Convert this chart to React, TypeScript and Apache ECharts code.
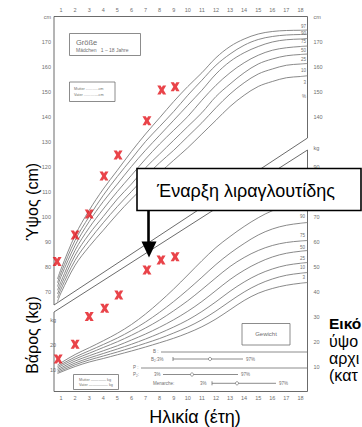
import React, { useEffect, useRef } from "react";
import * as echarts from "echarts";

// ---------- data ----------
const AGES = [0.75, 1, 2, 3, 4, 5, 6, 7, 8, 9, 10, 11, 12, 13, 14, 15, 16, 17, 18, 18.5];
const AGE_TICKS = [1, 2, 3, 4, 5, 6, 7, 8, 9, 10, 11, 12, 13, 14, 15, 16, 17, 18];
const PCT_NAMES = ["3", "10", "25", "50", "75", "90", "97"];

const H3 = [66, 69.5, 80.5, 88, 94.5, 101, 107, 112.5, 117.5, 122.5, 127.5, 133, 138.5, 144, 148.5, 152, 154, 155.5, 156, 156.3];
const H10 = [67.5, 71, 82.5, 90.5, 97.5, 104, 110, 116, 121.5, 126.5, 132, 137.5, 143.5, 149, 153.5, 157, 159, 160.5, 161, 161.2];
const H25 = [69, 72.5, 84.5, 93, 100, 107, 113, 119.5, 125, 130.5, 136, 141.5, 148, 153, 157.5, 161, 163, 164.3, 164.8, 165];
const H50 = [70.5, 74, 86.5, 95.5, 103, 110, 116.5, 123, 129, 134.5, 140, 146.5, 152.5, 157.5, 161.5, 164.5, 166.5, 167.5, 168, 168.2];
const H75 = [72, 76, 88.5, 98, 106, 113, 120, 126.5, 132.5, 138.5, 144.5, 150.5, 157, 162, 165.5, 168, 169.8, 170.7, 171, 171.2];
const H90 = [73.5, 77.5, 90.5, 100, 108.5, 116, 123, 130, 136, 142, 148.5, 154.5, 160.5, 165, 168.5, 170.8, 172, 172.6, 172.8, 172.9];
const H97 = [75, 79, 92.5, 102.5, 111, 118.5, 126, 133, 139.5, 146, 152, 157.5, 163.5, 168, 171, 173, 174, 174.4, 174.5, 174.6];

const W3 = [7.2, 7.8, 10.0, 11.8, 13.2, 14.7, 16.2, 17.8, 19.5, 21.3, 23.4, 25.9, 29.0, 32.7, 36.4, 39.3, 41.2, 42.5, 43.3, 43.6];
const W10 = [7.7, 8.3, 10.7, 12.6, 14.2, 15.8, 17.5, 19.3, 21.2, 23.4, 25.8, 28.7, 32.2, 36.1, 39.8, 42.8, 45.0, 46.5, 47.3, 47.6];
const W25 = [8.2, 8.9, 11.4, 13.4, 15.2, 17.0, 18.9, 21.0, 23.3, 25.8, 28.6, 32.0, 35.9, 40.1, 43.8, 46.8, 49.0, 50.5, 51.3, 51.6];
const W50 = [8.8, 9.5, 12.2, 14.3, 16.3, 18.3, 20.6, 23.0, 25.7, 28.7, 32.1, 36.0, 40.4, 44.8, 48.5, 51.5, 53.8, 55.3, 56.1, 56.4];
const W75 = [9.4, 10.2, 13.0, 15.3, 17.6, 19.9, 22.5, 25.4, 28.6, 32.3, 36.3, 40.8, 45.5, 50.0, 53.6, 56.4, 58.4, 59.6, 60.2, 60.4];
const W90 = [10.0, 10.8, 13.8, 16.3, 18.8, 21.4, 24.4, 27.8, 31.7, 36.0, 40.7, 45.7, 50.8, 55.3, 59.2, 62.6, 65.0, 66.5, 67.3, 67.6];
const W97 = [10.6, 11.5, 14.8, 17.5, 20.3, 23.3, 26.8, 31.0, 35.8, 41.0, 46.6, 52.3, 57.6, 62.0, 66.0, 69.5, 72.3, 74.0, 74.8, 75.0];

const CHILD_AGE_H = [0.72, 2.0, 3.0, 4.05, 5.05, 7.1, 8.15, 9.1];
const CHILD_HEIGHT = [82, 92.6, 101, 116.2, 124.6, 138.3, 150.6, 151.9];
const CHILD_AGE_W = [0.8, 2.0, 3.0, 4.1, 5.1, 7.1, 8.1, 9.1];
const CHILD_WEIGHT = [13, 18.9, 30, 33.3, 38.6, 48.6, 52.6, 53.9];

const HEIGHT_LEFT_TICKS = [70, 80, 90, 100, 110, 120, 130, 140, 150, 160, 170, 180];
const HEIGHT_RIGHT_TICKS = [140, 150, 160, 170, 180];
const WEIGHT_LEFT_TICKS = [10, 20, 30];
const WEIGHT_RIGHT_TICKS = [10, 20, 30, 40, 50, 60, 70, 90, 97.4];

const HEIGHT_FRAME = [[0.5, 180], [18.5, 180], [18.5, 131.4], [0.5, 64.6], [0.5, 180]];
const WEIGHT_FRAME = [[0.5, 31.8], [18.5, 96.6], [18.5, 0], [0.5, 0], [0.5, 31.8]];

const LABEL_TEXT = "Έναρξη λιραγλουτίδης";
const CAPTION = ["Εικό", "ύψο", "αρχι", "(κατ"];

// ---------- helpers ----------
const GREY = "#6f6f6f";
const FONT = "'Liberation Sans', Arial, sans-serif";
const XMARK = "path://M0,0 L3.7,0 L5,2.3 L6.3,0 L10,0 L7,5 L10,10 L6.3,10 L5,7.7 L3.7,10 L0,10 L3,5 Z";

const zip = (xs: number[], ys: number[]) => xs.map((x, i) => [x, ys[i]]);

const txt = (text: string, x: number, y: number, size = 4.5, align = "left", extra: any = {}) => ({
  type: "text",
  x,
  y,
  z: 100,
  silent: true,
  style: {
    text,
    fontSize: size,
    fontFamily: FONT,
    fill: GREY,
    align,
    verticalAlign: "middle",
    textAlign: align,
    textVerticalAlign: "middle",
    ...extra,
  },
});
const ln = (x1: number, y1: number, x2: number, y2: number, w = 0.8, c = GREY) => ({
  type: "line",
  z: 100,
  silent: true,
  shape: { x1, y1, x2, y2 },
  style: { stroke: c, lineWidth: w },
});
const box = (x: number, y: number, w: number, h: number, stroke = GREY, lw = 0.8, fill = "#fff") => ({
  type: "rect",
  z: 100,
  silent: true,
  shape: { x, y, width: w, height: h },
  style: { fill, stroke, lineWidth: lw },
});
const dot = (cx: number, cy: number) => ({
  type: "circle",
  z: 101,
  silent: true,
  shape: { cx, cy, r: 1.6 },
  style: { fill: "#fff", stroke: GREY, lineWidth: 0.7 },
});

export default function App() {
  const ref = useRef<HTMLDivElement>(null);

  useEffect(() => {
    if (!ref.current) return;
    const chart = echarts.init(ref.current, null, { renderer: "svg" });

    const tickLabel = { fontSize: 5.5, color: GREY, fontFamily: FONT };
    const hSeries = [H3, H10, H25, H50, H75, H90, H97].map((arr, i) => ({
      name: "H" + PCT_NAMES[i],
      type: "line",
      xAxisIndex: 0,
      yAxisIndex: 0,
      data: zip(AGES, arr),
      showSymbol: false,
      smooth: 0.35,
      silent: true,
      lineStyle: { color: "#7c7c7c", width: 0.9 },
    }));
    const wSeries = [W3, W10, W25, W50, W75, W90, W97].map((arr, i) => ({
      name: "W" + PCT_NAMES[i],
      type: "line",
      xAxisIndex: 0,
      yAxisIndex: 2,
      data: zip(AGES, arr),
      showSymbol: false,
      smooth: 0.35,
      silent: true,
      lineStyle: { color: "#7c7c7c", width: 0.9 },
    }));

    const option: any = {
      animation: false,
      backgroundColor: "#fff",
      grid: { left: 54, right: 54.5, top: 16.5, bottom: 35.5, containLabel: false, outerBoundsMode: "none" },
      xAxis: [
        {
          type: "value", position: "bottom", min: 0.5, max: 18.5,
          axisLine: { show: false, onZero: false }, axisTick: { show: false }, splitLine: { show: false },
          axisLabel: { ...tickLabel, margin: 3, customValues: AGE_TICKS },
        },
        {
          type: "value", position: "top", min: 0.5, max: 18.5,
          axisLine: { show: false, onZero: false }, axisTick: { show: false }, splitLine: { show: false },
          axisLabel: { ...tickLabel, margin: 4, customValues: AGE_TICKS },
        },
      ],
      yAxis: [
        {
          type: "value", position: "left", min: 30, max: 180,
          axisLine: { show: false, onZero: false }, axisTick: { show: false }, splitLine: { show: false },
          axisLabel: { ...tickLabel, margin: 3, customValues: HEIGHT_LEFT_TICKS, formatter: (v: number) => (v === 180 ? "cm" : String(v)) },
        },
        {
          type: "value", position: "right", min: 30, max: 180,
          axisLine: { show: false, onZero: false }, axisTick: { show: false }, splitLine: { show: false },
          axisLabel: { ...tickLabel, margin: 6, customValues: HEIGHT_RIGHT_TICKS, formatter: (v: number) => (v === 180 ? "cm" : String(v)) },
        },
        {
          type: "value", position: "right", min: 0, max: 150,
          axisLine: { show: false, onZero: false }, axisTick: { show: false }, splitLine: { show: false },
          axisLabel: { ...tickLabel, margin: 6, customValues: WEIGHT_RIGHT_TICKS, formatter: (v: number) => (v > 95 ? "kg" : String(v)) },
        },
        {
          type: "value", position: "left", min: 1.5, max: 151.5,
          axisLine: { show: false, onZero: false }, axisTick: { show: false }, splitLine: { show: false },
          axisLabel: { ...tickLabel, margin: -2, customValues: WEIGHT_LEFT_TICKS, formatter: (v: number) => (v === 30 ? "kg" : String(v)) },
        },
      ],
      series: [
        {
          type: "line", xAxisIndex: 0, yAxisIndex: 0, data: HEIGHT_FRAME, showSymbol: false, silent: true,
          lineStyle: { color: "#5a5a5a", width: 0.9 },
        },
        {
          type: "line", xAxisIndex: 0, yAxisIndex: 2, data: WEIGHT_FRAME, showSymbol: false, silent: true,
          lineStyle: { color: "#5a5a5a", width: 0.9 },
        },
        ...hSeries,
        ...wSeries,
        {
          type: "scatter", xAxisIndex: 0, yAxisIndex: 0, data: zip(CHILD_AGE_H, CHILD_HEIGHT),
          symbol: XMARK, symbolSize: [9, 9], itemStyle: { color: "#e3141c" }, silent: true, z: 5,
        },
        {
          type: "scatter", xAxisIndex: 0, yAxisIndex: 2, data: zip(CHILD_AGE_W, CHILD_WEIGHT),
          symbol: XMARK, symbolSize: [9, 9], itemStyle: { color: "#e3141c" }, silent: true, z: 5,
        },
      ],
      graphic: [
        // Größe box
        box(69.5, 33.5, 71, 22),
        txt("Größe", 76, 42, 7.5),
        txt("Mädchen   1 – 18 Jahre", 76, 49.5, 5),
        // Mutter / Vater (height)
        box(69.5, 82, 45.5, 19.5),
        txt("Mutter ............cm", 74, 89, 3.8),
        txt("Vater ..............cm", 74, 95, 3.8),
        // height percentile labels
        txt("97", 306, 26, 4.5, "right"),
        txt("90", 306, 33.5, 4.5, "right"),
        txt("75", 306, 41, 4.5, "right"),
        txt("50", 306, 50, 4.5, "right"),
        txt("25", 306, 59, 4.5, "right"),
        txt("10", 306, 70.5, 4.5, "right"),
        txt("3", 306, 82.5, 4.5, "right"),
        txt("%", 306, 96, 4.5, "right"),
        // weight percentile labels
        txt("90", 305, 216, 4.5, "right"),
        txt("75", 305, 235, 4.5, "right"),
        txt("50", 305, 247, 4.5, "right"),
        txt("25", 305, 258, 4.5, "right"),
        txt("10", 305, 267, 4.5, "right"),
        txt("3", 305, 277, 4.5, "right"),
        // Gewicht box
        box(242, 323.5, 48, 21.5),
        txt("Gewicht", 266, 334, 6, "center"),
        // puberty stages
        txt("B :", 153, 351.5, 4.5),
        ln(161, 352, 307, 352),
        txt("B₂:3%", 151, 359, 4.5),
        ln(173, 359, 243, 359),
        ln(173, 357, 173, 361),
        dot(210, 359),
        txt("97%", 246, 359, 4.5),
        txt("P :", 133, 367.5, 4.5),
        ln(141, 368, 307, 368),
        txt("P₂:", 133, 374.5, 4.5),
        txt("3%", 154, 374.5, 4.5),
        ln(163, 374.5, 238, 374.5),
        dot(192, 374.5),
        txt("97%", 241, 374, 4.5),
        txt("Menarche:", 153, 383.3, 4.5),
        txt("3%", 200, 383.3, 4.5),
        ln(212, 383.3, 276, 383.3),
        ln(212, 381.3, 212, 385.3),
        dot(237, 383.3),
        txt("97%", 279, 383.3, 4.5),
        // Mutter / Vater (weight)
        box(73.5, 374.5, 45, 15),
        txt("Mutter ———— kg", 79, 379.7, 3.8),
        txt("Vater ————— kg", 79, 385, 3.8),
        // annotation
        box(137, 168.5, 224, 42, "#000", 1.6, "#fff"),
        txt(LABEL_TEXT, 246, 190.5, 18, "center", { fill: "#000" }),
        ln(148.5, 211, 148.5, 243, 2.6, "#000"),
        {
          type: "polygon", z: 101, silent: true,
          shape: { points: [[141.5, 241.5], [156.5, 241.5], [149, 257.5]] },
          style: { fill: "#000" },
        },
        // axis titles
        { ...txt("Ύψος (cm)", 32, 202, 16, "center", { fill: "#000" }), rotation: Math.PI / 2 },
        { ...txt("Βάρος (kg)", 32, 335, 16, "center", { fill: "#000" }), rotation: Math.PI / 2 },
        txt("Ηλικία (έτη)", 195, 417, 18, "center", { fill: "#000" }),
        // caption (only the part visible at the page edge)
        txt(CAPTION[0], 329, 323, 15.5, "left", { fill: "#000", fontWeight: "bold" }),
        txt(CAPTION[1], 329, 341, 16, "left", { fill: "#000" }),
        txt(CAPTION[2], 329, 358, 16, "left", { fill: "#000" }),
        txt(CAPTION[3], 329, 375, 16, "left", { fill: "#000" }),
      ],
    };

    chart.setOption(option);
    return () => chart.dispose();
  }, []);

  return (
    <div
      ref={ref}
      style={{ position: "fixed", left: 0, top: 0, width: 362, height: 427, background: "#fff" }}
    />
  );
}
